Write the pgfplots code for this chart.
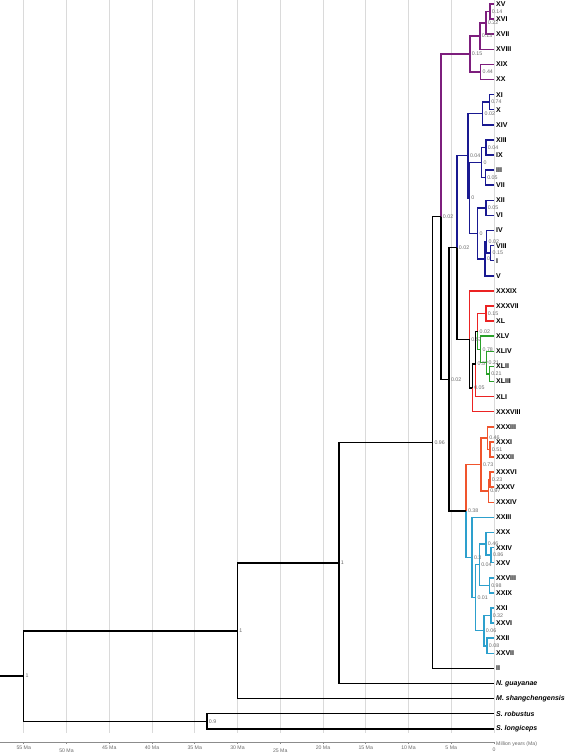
\documentclass[border=0pt]{standalone}
\usepackage{fontspec}
\setmainfont{Liberation Sans}
\usepackage{pgfplots}
\pgfplotsset{compat=1.18}
\definecolor{cpur}{RGB}{125,30,125}
\definecolor{cblu}{RGB}{25,25,145}
\definecolor{cred}{RGB}{235,35,35}
\definecolor{cgrn}{RGB}{40,160,40}
\definecolor{cora}{RGB}{240,85,45}
\definecolor{ccya}{RGB}{45,160,205}
\definecolor{cgrid}{RGB}{218,218,218}
\definecolor{clab}{RGB}{105,105,105}
\tikzset{
  nlab/.style={anchor=west, inner sep=0pt, xshift=1.8bp, text=clab, font=\fontsize{5.3}{6}\selectfont},
  tlab/.style={anchor=west, inner sep=0pt, xshift=2bp, font=\fontsize{7}{8}\selectfont\bfseries},
  alab/.style={text=clab, inner sep=0pt, font=\fontsize{5.2}{6}\selectfont},
}
% branch: colour, parent age, parent row, child row, child age
\newcommand{\br}[5]{\addplot[#1] coordinates {(#2,#3) (#2,#4) (#5,#4)};}
\newcommand{\nl}[3]{\node[nlab] at (axis cs:#1,#2) {#3};}
\newcommand{\tl}[2]{\node[tlab] at (axis cs:0,#1) {#2};}
\begin{document}
\begin{tikzpicture}
\begin{axis}[
  at={(0,0)}, anchor=south west,
  width=567bp, height=756bp, scale only axis,
  xmin=-8.538, xmax=57.778, x dir=reverse,
  ymin=-0.2649, ymax=49.80, y dir=reverse,
  hide axis, clip=false,
  every axis plot/.style={line width=1.5bp, line join=miter, mark=none},
]
% grid lines
\foreach \g in {0,5,...,55}{
  \edef\tmp{\noexpand\draw[cgrid, line width=0.8bp] (axis cs:\g,-0.2649) -- (axis cs:\g,48.3);}\tmp
}
% time axis
\draw[black!45, line width=0.5bp] (axis cs:57.778,48.88) -- (axis cs:0,48.88);
\foreach \g in {0,5,...,55}{
  \edef\tmp{\noexpand\draw[black!45, line width=0.5bp] (axis cs:\g,48.88) -- (axis cs:\g,49.02);}\tmp
}
\foreach \g/\r in {55/49.22,50/49.48,45/49.22,40/49.22,35/49.22,30/49.22,25/49.48,20/49.22,15/49.22,10/49.22,5/49.22}{
  \edef\tmp{\noexpand\node[alab] at (axis cs:\g,\r) {\g\space Ma};}\tmp
}
\node[alab] at (axis cs:0,49.40) {0};
\node[alab, anchor=west, xshift=2bp] at (axis cs:0,49.0) {Million years (Ma)};

% ---- purple clade
\br{cpur}{0.47}{0.5}{0}{0}
\br{cpur}{0.47}{0.5}{1}{0}
\br{cpur}{0.94}{1.25}{0.5}{0.47}
\br{cpur}{0.94}{1.25}{2}{0}
\br{cpur}{1.64}{2.125}{1.25}{0.94}
\br{cpur}{1.64}{2.125}{3}{0}
\br{cpur}{1.56}{4.5}{4}{0}
\br{cpur}{1.56}{4.5}{5}{0}
\br{cpur}{2.81}{3.3125}{2.125}{1.64}
\br{cpur}{2.81}{3.3125}{4.5}{1.56}
\br{cpur}{6.2}{14.083}{3.3125}{2.81}
% ---- blue clade
\br{cblu}{0.55}{6.5}{6}{0}
\br{cblu}{0.55}{6.5}{7}{0}
\br{cblu}{1.32}{7.25}{6.5}{0.55}
\br{cblu}{1.32}{7.25}{8}{0}
\br{cblu}{0.94}{9.5}{9}{0}
\br{cblu}{0.94}{9.5}{10}{0}
\br{cblu}{1.02}{11.5}{11}{0}
\br{cblu}{1.02}{11.5}{12}{0}
\br{cblu}{1.44}{10.5}{9.5}{0.94}
\br{cblu}{1.44}{10.5}{11.5}{1.02}
\br{cblu}{0.94}{13.5}{13}{0}
\br{cblu}{0.94}{13.5}{14}{0}
\br{cblu}{0.39}{16.5}{16}{0}
\br{cblu}{0.39}{16.5}{17}{0}
\br{cblu}{0.85}{15.75}{15}{0}
\br{cblu}{0.85}{15.75}{16.5}{0.39}
\br{cblu}{1.05}{16.875}{15.75}{0.85}
\br{cblu}{1.05}{16.875}{18}{0}
\br{cblu}{1.91}{15.1875}{13.5}{0.94}
\br{cblu}{1.91}{15.1875}{16.875}{1.05}
\br{cblu}{2.87}{12.8438}{10.5}{1.44}
\br{cblu}{2.87}{12.8438}{15.1875}{1.91}
\br{cblu}{3.04}{10.0469}{7.25}{1.32}
\br{cblu}{3.04}{10.0469}{12.8438}{2.87}
\br{cblu}{4.33}{16.1289}{10.0469}{3.04}
% ---- red / green clade
\br{cred}{0.94}{20.5}{20}{0}
\br{cred}{0.94}{20.5}{21}{0}
\br{cgrn}{0.55}{24.5}{24}{0}
\br{cgrn}{0.55}{24.5}{25}{0}
\br{cgrn}{0.85}{23.75}{23}{0}
\br{cgrn}{0.85}{23.75}{24.5}{0.55}
\br{cgrn}{1.56}{22.875}{22}{0}
\br{cgrn}{1.56}{22.875}{23.75}{0.85}
\br{cred}{1.91}{21.6875}{20.5}{0.94}
\br{cgrn}{1.91}{21.6875}{22.875}{1.56}
\br{black}{2.14}{23.8438}{21.6875}{1.91}
\br{cred}{2.14}{23.8438}{26}{0}
\br{black}{2.54}{25.4219}{23.8438}{2.14}
\br{cred}{2.54}{25.4219}{27}{0}
\br{cred}{2.88}{22.2109}{19}{0}
\br{black}{2.88}{22.2109}{25.4219}{2.54}
\br{black}{4.33}{16.1289}{22.2109}{2.88}
% ---- orange clade
\br{cora}{0.47}{29.5}{29}{0}
\br{cora}{0.47}{29.5}{30}{0}
\br{cora}{0.78}{28.75}{28}{0}
\br{cora}{0.78}{28.75}{29.5}{0.47}
\br{cora}{0.47}{31.5}{31}{0}
\br{cora}{0.47}{31.5}{32}{0}
\br{cora}{0.67}{32.25}{31.5}{0.47}
\br{cora}{0.67}{32.25}{33}{0}
\br{cora}{1.52}{30.5}{28.75}{0.78}
\br{cora}{1.52}{30.5}{32.25}{0.67}
\br{cora}{3.27}{33.5781}{30.5}{1.52}
% ---- cyan clade
\br{ccya}{0.35}{36.5}{36}{0}
\br{ccya}{0.35}{36.5}{37}{0}
\br{ccya}{0.94}{35.75}{35}{0}
\br{ccya}{0.94}{35.75}{36.5}{0.35}
\br{ccya}{0.55}{38.5}{38}{0}
\br{ccya}{0.55}{38.5}{39}{0}
\br{ccya}{1.72}{37.125}{35.75}{0.94}
\br{ccya}{1.72}{37.125}{38.5}{0.55}
\br{ccya}{0.37}{40.5}{40}{0}
\br{ccya}{0.37}{40.5}{41}{0}
\br{ccya}{0.82}{42.5}{42}{0}
\br{ccya}{0.82}{42.5}{43}{0}
\br{ccya}{1.17}{41.5}{40.5}{0.37}
\br{ccya}{1.17}{41.5}{42.5}{0.82}
\br{ccya}{2.16}{39.3125}{37.125}{1.72}
\br{ccya}{2.16}{39.3125}{41.5}{1.17}
\br{ccya}{2.57}{36.6563}{34}{0}
\br{ccya}{2.57}{36.6563}{39.3125}{2.16}
\br{ccya}{3.27}{33.5781}{36.6563}{2.57}
% ---- backbone
\br{black}{5.26}{24.8535}{16.1289}{4.33}
\br{black}{5.26}{24.8535}{33.5781}{3.27}
\br{black}{6.2}{14.083}{24.8535}{5.26}
\br{black}{7.19}{29.0415}{14.083}{6.2}
\br{black}{7.19}{29.0415}{44}{0}
\br{black}{18.13}{37.0208}{29.0415}{7.19}
\br{black}{18.13}{37.0208}{45}{0}
\br{black}{30.0}{41.5104}{37.0208}{18.13}
\br{black}{30.0}{41.5104}{46}{0}
\br{black}{33.57}{47.5}{47}{0}
\br{black}{33.57}{47.5}{48}{0}
\br{black}{55}{44.5052}{41.5104}{30.0}
\br{black}{55}{44.5052}{47.5}{33.57}
\addplot[black] coordinates {(57.778,44.5052) (55,44.5052)};

% ---- node labels
\nl{0.47}{0.5}{0.14}
\nl{0.94}{1.25}{0.22}
\nl{1.64}{2.125}{0.13}
\nl{1.56}{4.5}{0.44}
\nl{2.81}{3.3125}{0.15}
\nl{0.55}{6.5}{0.74}
\nl{1.32}{7.25}{0.02}
\nl{0.94}{9.5}{0.04}
\nl{1.02}{11.5}{0.05}
\nl{1.44}{10.5}{0}
\nl{0.94}{13.5}{0.05}
\nl{0.39}{16.5}{0.15}
\nl{0.85}{15.75}{0.02}
\nl{1.05}{16.875}{0}
\nl{1.91}{15.1875}{0}
\nl{2.87}{12.8438}{0}
\nl{3.04}{10.0469}{0.04}
\nl{4.33}{16.1289}{0.02}
\nl{0.94}{20.5}{0.15}
\nl{0.55}{24.5}{0.21}
\nl{0.85}{23.75}{0.21}
\nl{1.56}{22.875}{0.78}
\nl{1.91}{21.6875}{0.02}
\nl{2.14}{23.8438}{0.57}
\nl{2.54}{25.4219}{0.05}
\nl{2.88}{22.2109}{0.57}
\nl{0.47}{29.5}{0.51}
\nl{0.78}{28.75}{0.46}
\nl{0.47}{31.5}{0.23}
\nl{0.67}{32.25}{0.97}
\nl{1.52}{30.5}{0.73}
\nl{0.35}{36.5}{0.86}
\nl{0.94}{35.75}{0.46}
\nl{0.55}{38.5}{0.98}
\nl{1.72}{37.125}{0.04}
\nl{0.37}{40.5}{0.32}
\nl{0.82}{42.5}{0.08}
\nl{1.17}{41.5}{0.06}
\nl{2.16}{39.3125}{0.01}
\nl{2.57}{36.6563}{0.3}
\nl{3.27}{33.5781}{0.38}
\nl{5.26}{24.8535}{0.02}
\nl{6.2}{14.083}{0.02}
\nl{7.19}{29.0415}{0.96}
\nl{18.13}{37.0208}{1}
\nl{30.0}{41.5104}{1}
\nl{33.57}{47.5}{0.9}
\nl{55}{44.5052}{1}

% ---- tip labels
\tl{0}{XV}\tl{1}{XVI}\tl{2}{XVII}\tl{3}{XVIII}\tl{4}{XIX}\tl{5}{XX}
\tl{6}{XI}\tl{7}{X}\tl{8}{XIV}\tl{9}{XIII}\tl{10}{IX}\tl{11}{III}\tl{12}{VII}
\tl{13}{XII}\tl{14}{VI}\tl{15}{IV}\tl{16}{VIII}\tl{17}{I}\tl{18}{V}
\tl{19}{XXXIX}\tl{20}{XXXVII}\tl{21}{XL}\tl{22}{XLV}\tl{23}{XLIV}\tl{24}{XLII}
\tl{25}{XLIII}\tl{26}{XLI}\tl{27}{XXXVIII}\tl{28}{XXXIII}\tl{29}{XXXI}\tl{30}{XXXII}
\tl{31}{XXXVI}\tl{32}{XXXV}\tl{33}{XXXIV}\tl{34}{XXIII}\tl{35}{XXX}\tl{36}{XXIV}
\tl{37}{XXV}\tl{38}{XXVIII}\tl{39}{XXIX}\tl{40}{XXI}\tl{41}{XXVI}\tl{42}{XXII}
\tl{43}{XXVII}\tl{44}{II}
\tl{45}{\itshape N. guayanae}\tl{46}{\itshape M. shangchengensis}
\tl{47}{\itshape S. robustus}\tl{48}{\itshape S. longiceps}
\end{axis}
\pgfresetboundingbox
\path[use as bounding box] (0,0) rectangle (567bp,756bp);
\end{tikzpicture}
\end{document}
